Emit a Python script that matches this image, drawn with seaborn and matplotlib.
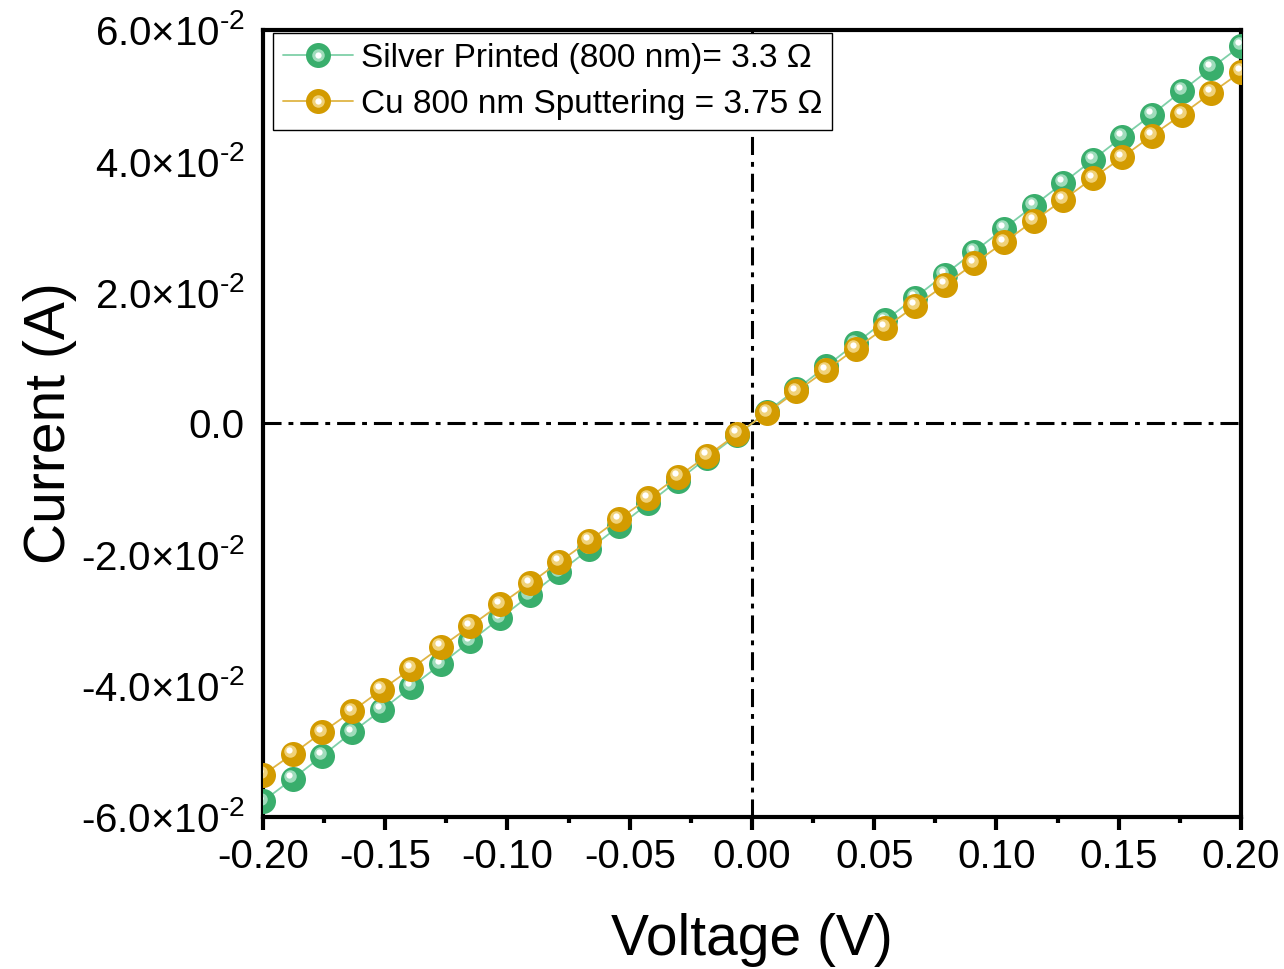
"""
plot.py
I-V curves of printed silver vs sputtered copper (800 nm films).
"""

import matplotlib
matplotlib.use("Agg")
import matplotlib.pyplot as plt
import matplotlib.transforms as mtransforms
from matplotlib.lines import Line2D
from matplotlib.legend_handler import HandlerTuple
import numpy as np
import pandas as pd
import seaborn as sns

# ── Data ──────────────────────────────────────────────────────────────────────
voltage = [-0.2000, -0.1879, -0.1758, -0.1636, -0.1515, -0.1394, -0.1273,
           -0.1152, -0.1030, -0.0909, -0.0788, -0.0667, -0.0545, -0.0424,
           -0.0303, -0.0182, -0.0061, 0.0061, 0.0182, 0.0303, 0.0424,
           0.0545, 0.0667, 0.0788, 0.0909, 0.1030, 0.1152, 0.1273, 0.1394,
           0.1515, 0.1636, 0.1758, 0.1879, 0.2000]

silver_current = [-0.0576, -0.0542, -0.0507, -0.0471, -0.0437, -0.0402,
                  -0.0367, -0.0332, -0.0297, -0.0262, -0.0227, -0.0192,
                  -0.0157, -0.0122, -0.0087, -0.0052, -0.0018, 0.0018,
                  0.0052, 0.0087, 0.0122, 0.0157, 0.0192, 0.0227, 0.0262,
                  0.0297, 0.0332, 0.0367, 0.0402, 0.0437, 0.0471, 0.0507,
                  0.0542, 0.0576]

cu_current = [-0.0536, -0.0504, -0.0471, -0.0439, -0.0406, -0.0374, -0.0341,
              -0.0309, -0.0276, -0.0244, -0.0211, -0.0179, -0.0146, -0.0114,
              -0.0081, -0.0049, -0.0016, 0.0016, 0.0049, 0.0081, 0.0114,
              0.0146, 0.0179, 0.0211, 0.0244, 0.0276, 0.0309, 0.0341, 0.0374,
              0.0406, 0.0439, 0.0471, 0.0504, 0.0536]

series_labels = ["Silver Printed (800 nm)= 3.3 \u03a9",
                 "Cu 800 nm Sputtering = 3.75 \u03a9"]

x_ticks = [-0.20, -0.15, -0.10, -0.05, 0.00, 0.05, 0.10, 0.15, 0.20]
x_ticklabels = ["-0.20", "-0.15", "-0.10", "-0.05", "0.00",
                "0.05", "0.10", "0.15", "0.20"]
y_ticks = [-0.06, -0.04, -0.02, 0.0, 0.02, 0.04, 0.06]
y_ticklabels = [r"-$6.0{\times}10^{\text{-}2}$", r"-$4.0{\times}10^{\text{-}2}$",
                r"-$2.0{\times}10^{\text{-}2}$", "0.0",
                r"$2.0{\times}10^{\text{-}2}$", r"$4.0{\times}10^{\text{-}2}$",
                r"$6.0{\times}10^{\text{-}2}$"]

# ── Style ─────────────────────────────────────────────────────────────────────
SPHERE = ["#39ae6c", "#d39b00"]
SHINE = ["#9fdcbb", "#f0d27a"]
LINE = ["#7fd0a8", "#dfb545"]

sns.set_style("white")
plt.rcParams["font.family"] = ["Liberation Sans", "DejaVu Sans"]
plt.rcParams["mathtext.fontset"] = "custom"
plt.rcParams["mathtext.rm"] = "Liberation Sans"
plt.rcParams["mathtext.it"] = "Liberation Sans:italic"
plt.rcParams["mathtext.default"] = "regular"
plt.rcParams["axes.unicode_minus"] = False
plt.rcParams["lines.scale_dashes"] = False
for key in ["text.color", "axes.labelcolor", "xtick.color", "ytick.color"]:
    plt.rcParams[key] = "black"

fig = plt.figure(figsize=(12.84, 9.69), dpi=100)
ax = fig.add_axes([0.2048, 0.1569, 0.7617, 0.8122])

# ── Reference lines through the origin ────────────────────────────────────────
dashdot = (0, (13, 5, 3.5, 5))
ax.axhline(0, color="black", lw=2.2, ls=dashdot, zorder=1)
ax.axvline(0, color="black", lw=2.2, ls=dashdot, zorder=1)

# ── Curves with shaded "sphere" markers ───────────────────────────────────────
hl1 = mtransforms.offset_copy(ax.transData, fig=fig, x=-1.6, y=1.9, units="points")
hl2 = mtransforms.offset_copy(ax.transData, fig=fig, x=-2.2, y=2.6, units="points")

handles = []
for i, ys in enumerate([silver_current, cu_current]):
    df = pd.DataFrame({"V": voltage, "I": ys})
    z = 3 + 3 * i
    sns.lineplot(data=df, x="V", y="I", ax=ax, color=LINE[i], lw=1.3,
                 marker="o", markersize=18, markerfacecolor=SPHERE[i],
                 markeredgewidth=0, zorder=z, sort=False, legend=False)
    ax.plot(voltage, ys, ls="none", marker="o", markersize=9,
            markerfacecolor=SHINE[i], markeredgewidth=0,
            transform=hl1, zorder=z + 1, clip_on=True)
    ax.plot(voltage, ys, ls="none", marker="o", markersize=4.5,
            markerfacecolor="white", markeredgewidth=0,
            transform=hl2, zorder=z + 2, clip_on=True)
    base = Line2D([], [], color=LINE[i], lw=1.3, marker="o", markersize=18,
                  markerfacecolor=SPHERE[i], markeredgewidth=0)
    shine = Line2D([], [], ls="none", marker="o", markersize=9,
                   markerfacecolor=SHINE[i], markeredgewidth=0)
    spot = Line2D([], [], ls="none", marker="o", markersize=4.5,
                  markerfacecolor="white", markeredgewidth=0)
    handles.append((base, shine, spot))

# ── Axes ──────────────────────────────────────────────────────────────────────
ax.set_xlim(-0.2, 0.2)
ax.set_ylim(-0.06, 0.06)
ax.set_xticks(x_ticks)
ax.set_xticklabels(x_ticklabels)
ax.set_xticks(np.array([-0.175, -0.125, -0.075, -0.025, 0.025, 0.075, 0.125, 0.175]),
              minor=True)
ax.set_yticks(y_ticks)
ax.set_yticklabels(y_ticklabels)

ax.tick_params(axis="x", which="major", direction="out", length=9, width=3,
               labelsize=29, pad=6, bottom=True)
ax.tick_params(axis="x", which="minor", direction="out", length=4, width=3,
               bottom=True)
ax.tick_params(axis="y", which="major", length=0, labelsize=29, pad=13)

for sp in ax.spines.values():
    sp.set_visible(True)
    sp.set_color("black")
    sp.set_linewidth(3)

ax.set_xlabel("Voltage (V)", fontsize=41, labelpad=27)
ax.set_ylabel("Current (A)", fontsize=41)
ax.yaxis.set_label_coords(-0.19, 0.5)

leg = ax.legend(handles, series_labels, loc="upper left",
                bbox_to_anchor=(0.010, 0.996), borderaxespad=0,
                handler_map={tuple: HandlerTuple(ndivide=1, pad=0)},
                fontsize=24, frameon=True, fancybox=False, framealpha=1,
                edgecolor="black", handlelength=2.1, handletextpad=0.25,
                labelspacing=0.45, borderpad=0.3)
leg.get_frame().set_linewidth(1)
leg.set_zorder(20)

fig.savefig("out.png", dpi=100)
plt.close(fig)
